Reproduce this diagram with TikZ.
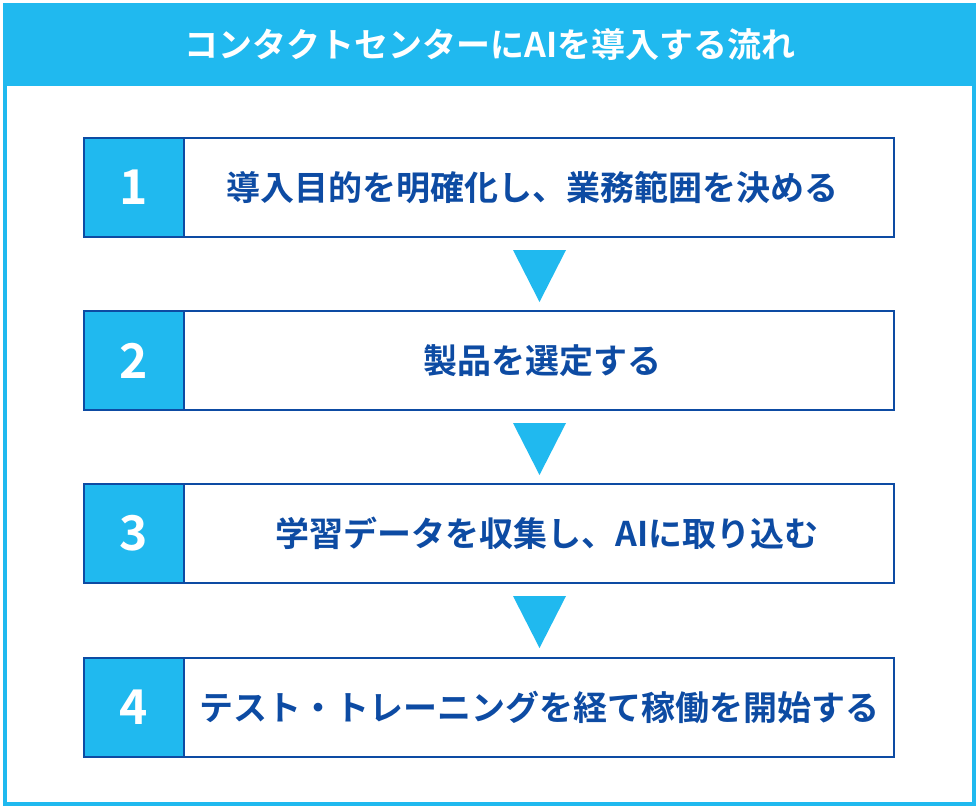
\documentclass[tikz,border=0pt]{standalone}
\usepackage{fontspec}
\newfontfamily\jpb{Noto Sans CJK JP Bold}
\usetikzlibrary{positioning}
\definecolor{skyc}{HTML}{20B9EF}
\definecolor{navyc}{HTML}{0D4BA3}
\tikzset{
  numcell/.style={rectangle, draw=navyc, fill=skyc, line width=2pt, minimum width=100pt, minimum height=99pt, inner sep=0pt, text=white, font=\jpb\fontsize{48}{56}\selectfont},
  rowbox/.style={rectangle, draw=navyc, fill=white, line width=2pt, minimum width=810pt, minimum height=99pt, inner sep=0pt},
  rowtext/.style={inner sep=0pt, text=navyc, font=\jpb\fontsize{34}{40}\selectfont},
  arrowtri/.style={fill=skyc},
}
\begin{document}
\begin{tikzpicture}[x=1pt,y=-1pt]
\useasboundingbox (0,0) rectangle (979,808);
\fill[white] (0,0) rectangle (979,808);
% header and frame
\fill[skyc] (3,3) rectangle (976,86);
\draw[skyc, line width=4pt] (5,5) rectangle (974,804);
\node[text=white, inner sep=0pt, font=\jpb\fontsize{34}{40}\selectfont] (title) at (490,44.5) {コンタクトセンターにAIを導入する流れ};
% rows
\foreach \i/\top in {1/137,2/310,3/483,4/657}{
  \node[rowbox] (row\i) at (489,\top+50.5) {};
  \node[numcell] (num\i) at (134,\top+50.5) {\i};
}
\node[rowtext] (t1) at (532,187.5) {導入目的を明確化し、業務範囲を決める};
\node[rowtext] (t2) at (542,360.5) {製品を選定する};
\node[rowtext] (t3) at (547,533.5) {学習データを収集し、AIに取り込む};
\node[rowtext] (t4) at (539,707.5) {テスト・トレーニングを経て稼働を開始する};
% arrows between rows
\foreach \a/\b in {1/2,2/3,3/4}{
  \coordinate (c\a) at ([xshift=50.5pt]row\a.south);
  \fill[arrowtri] ([xshift=-26.5pt,yshift=-12pt]c\a) -- ([xshift=26.5pt,yshift=-12pt]c\a) -- ([yshift=-64pt]c\a) -- cycle;
}
\end{tikzpicture}
\end{document}
